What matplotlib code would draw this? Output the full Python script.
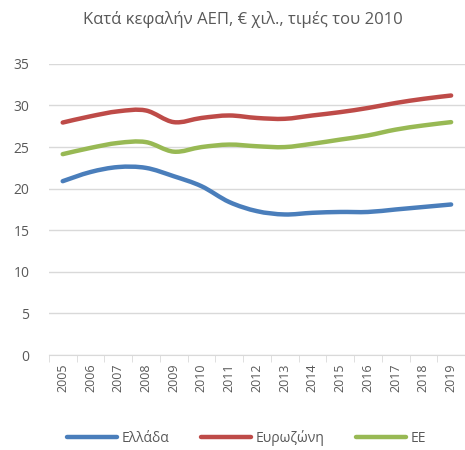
import numpy as np
import matplotlib
matplotlib.use("Agg")
import matplotlib.pyplot as plt
from matplotlib.path import Path
from matplotlib.patches import PathPatch
from matplotlib.lines import Line2D

plt.rcParams['font.family'] = ['Open Sans', 'DejaVu Sans']

years = [str(y) for y in range(2005, 2020)]
greece = [20.9, 22.0, 22.6, 22.5, 21.5, 20.3, 18.4, 17.3, 16.9, 17.1, 17.2, 17.2, 17.5, 17.8, 18.1]
eurozone = [27.95, 28.7, 29.3, 29.4, 28.0, 28.5, 28.8, 28.5, 28.4, 28.8, 29.2, 29.7, 30.3, 30.8, 31.2]
eu = [24.15, 24.9, 25.5, 25.6, 24.45, 25.0, 25.3, 25.1, 25.0, 25.4, 25.9, 26.4, 27.1, 27.6, 28.0]

series = [("Ελλάδα", greece, "#4a7ebb"),
          ("Ευρωζώνη", eurozone, "#be4b48"),
          ("ΕΕ", eu, "#98b954")]


def smooth_path(x, y):
    # Excel-style smoothed line: Catmull-Rom through the points as cubic Beziers
    pts = np.column_stack([x, y]).astype(float)
    verts = [pts[0]]
    codes = [Path.MOVETO]
    n = len(pts)
    for i in range(n - 1):
        p0 = pts[i - 1] if i > 0 else pts[i]
        p1 = pts[i]
        p2 = pts[i + 1]
        p3 = pts[i + 2] if i + 2 < n else pts[i + 1]
        c1 = p1 + (p2 - p0) / 6.0
        c2 = p2 - (p3 - p1) / 6.0
        verts += [c1, c2, p2]
        codes += [Path.CURVE4] * 3
    return Path(verts, codes)


fig = plt.figure(figsize=(4.65, 4.5), dpi=100)
ax = fig.add_axes([0.105, 0.211, 0.895, 0.647])

x = np.arange(len(years))
for name, vals, color in series:
    patch = PathPatch(smooth_path(x, vals), facecolor='none', edgecolor=color,
                      lw=3.2, capstyle='round', joinstyle='round', zorder=3)
    ax.add_patch(patch)

ax.set_xlim(-0.5, len(years) - 0.5)
ax.set_ylim(0, 35)
ax.set_yticks(range(0, 36, 5))
ax.grid(axis='y', color='#d9d9d9', lw=1)
ax.set_axisbelow(True)

ax.set_xticks(x)
ax.set_xticklabels(years, rotation=90, fontsize=9, color='#595959')
ax.set_xticks(np.arange(-0.5, len(years)), minor=True)
ax.tick_params(axis='x', which='major', length=0, pad=6)
ax.tick_params(axis='x', which='minor', length=5, color='#d9d9d9')
ax.tick_params(axis='y', length=0, labelsize=10, labelcolor='#595959', pad=14)

for s in ['top', 'right', 'left']:
    ax.spines[s].set_visible(False)
ax.spines['bottom'].set_color('#d9d9d9')

fig.text(0.523, 0.956, "Κατά κεφαλήν ΑΕΠ, € χιλ., τιμές του 2010",
         ha='center', va='center', fontsize=12, color='#595959')

handles = [Line2D([0], [0], color=c, lw=3.2, solid_capstyle='round') for _, _, c in series]
fig.legend(handles, [n for n, _, _ in series], loc='center', bbox_to_anchor=(0.53, 0.027),
           ncol=3, frameon=False, fontsize=10, handlelength=3.6, columnspacing=2.3,
           handletextpad=0.3, labelcolor='#595959')

fig.savefig("out.png", dpi=100)
